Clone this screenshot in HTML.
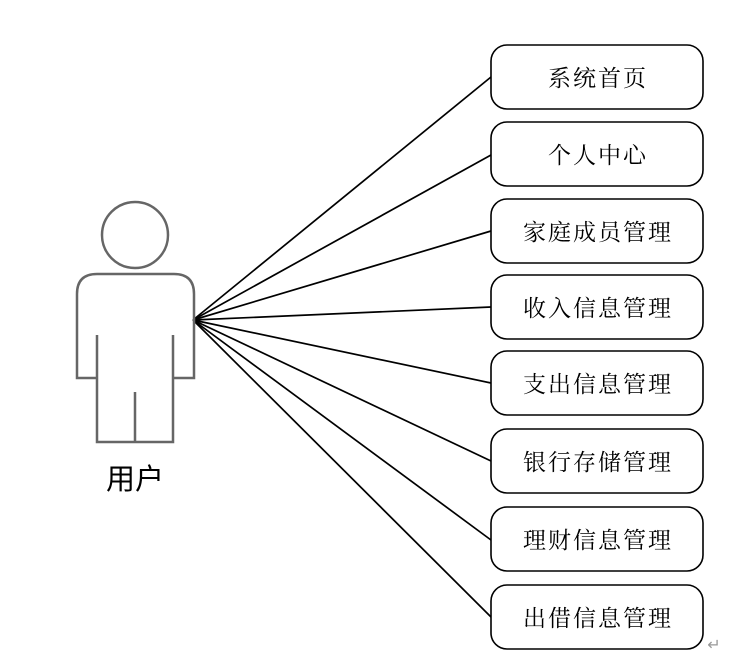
<!DOCTYPE html>
<html><head><meta charset="utf-8"><style>
body{margin:0;background:#fff;width:735px;height:660px;overflow:hidden}
svg{display:block}
.b{fill:#fff;stroke:#000;stroke-width:1.6}
.t{font-family:"Noto Serif CJK SC","Liberation Serif",serif;font-size:23px;letter-spacing:2px;text-anchor:middle;fill:#000}
</style></head><body>
<svg width="735" height="660" viewBox="0 0 735 660">
<g stroke="#000" stroke-width="1.7">
<line x1="193" y1="320" x2="491" y2="77"/>
<line x1="193" y1="320" x2="491" y2="155"/>
<line x1="193" y1="320" x2="491" y2="231"/>
<line x1="193" y1="320" x2="491" y2="307"/>
<line x1="193" y1="320" x2="491" y2="383"/>
<line x1="193" y1="320" x2="491" y2="461"/>
<line x1="193" y1="320" x2="491" y2="540"/>
<line x1="193" y1="320" x2="491" y2="617"/>
</g>
<g fill="none" stroke="#666" stroke-width="2.5">
<circle cx="135" cy="235" r="33"/>
<path d="M97 335 V378 H77 V294 Q77 274 97 274 H174 Q194 274 194 294 V378 H173 V335 M97 378 V442 H173 V378 M135 392 V442"/>
</g>
<text x="135" y="489" font-family="'Noto Sans CJK SC',sans-serif" font-size="29" text-anchor="middle">用户</text>
<rect class="b" x="491" y="45" width="212" height="64" rx="16"/>
<rect class="b" x="491" y="122" width="212" height="64" rx="16"/>
<rect class="b" x="491" y="199" width="212" height="64" rx="16"/>
<rect class="b" x="491" y="275" width="212" height="64" rx="16"/>
<rect class="b" x="491" y="351" width="212" height="64" rx="16"/>
<rect class="b" x="491" y="429" width="212" height="64" rx="16"/>
<rect class="b" x="491" y="507" width="212" height="64" rx="16"/>
<rect class="b" x="491" y="585" width="212" height="64" rx="16"/>
<text class="t" x="598" y="86">系统首页</text>
<text class="t" x="598" y="163">个人中心</text>
<text class="t" x="598" y="240">家庭成员管理</text>
<text class="t" x="598" y="316">收入信息管理</text>
<text class="t" x="598" y="392">支出信息管理</text>
<text class="t" x="598" y="470">银行存储管理</text>
<text class="t" x="598" y="548">理财信息管理</text>
<text class="t" x="598" y="626">出借信息管理</text>
<text x="714" y="650" font-family="DejaVu Sans,sans-serif" font-size="16" fill="#999" text-anchor="middle">↵</text>
</svg>
</body></html>
